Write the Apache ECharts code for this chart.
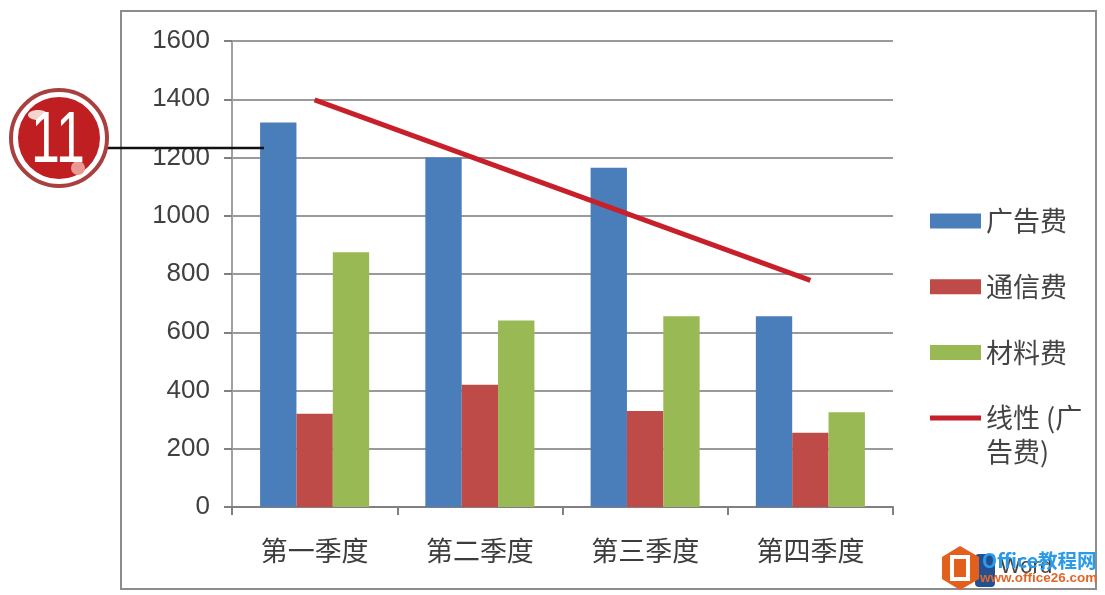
<!DOCTYPE html>
<html><head><meta charset="utf-8">
<style>html,body{margin:0;padding:0;background:#fff}#c{width:1105px;height:595px}</style>
<script src="https://cdn.jsdelivr.net/npm/echarts@6/dist/echarts.min.js"></script>
</head><body><div id="c"></div>
<script>
const categories = ['第一季度','第二季度','第三季度','第四季度'];
const adCost = [1320,1200,1165,655];
const commCost = [320,420,330,255];
const materialCost = [875,640,655,325];
const trend = [1398,null,null,778];
const yTicks = {min:0,max:1600,interval:200};
const names = ['广告费','通信费','材料费','线性 (广告费)'];
const CN = '"Noto Sans CJK SC","Liberation Sans",sans-serif';
const chart = echarts.init(document.getElementById('c'),null,{renderer:'canvas'});
const bar = (name,data,color)=>({name,type:'bar',data,barGap:'0%',barCategoryGap:'34%',itemStyle:{color},z:2});
chart.setOption({
  animation:false,
  backgroundColor:'#fff',
  grid:{left:232,right:212,top:41,bottom:88,containLabel:false},
  legend:{
    orient:'vertical',left:925,top:197,itemWidth:51,itemHeight:15,itemGap:27.7,
    data:names.map(n=>({name:n,icon:n===names[3]?'path://M0,0 L51,0 L51,5 L0,5 Z':'rect'})),
    formatter:n=>n===names[3]?'线性 (广':n,
    textStyle:{fontFamily:CN,fontSize:27,color:'#444',lineHeight:38}
  },
  xAxis:{type:'category',data:categories,
    axisLine:{lineStyle:{color:'#808080',width:2}},
    axisTick:{show:true,length:8,alignWithLabel:false,lineStyle:{color:'#808080',width:2}},
    axisLabel:{fontFamily:CN,fontSize:27,color:'#3c3c3c',margin:30}},
  yAxis:{type:'value',min:yTicks.min,max:yTicks.max,interval:yTicks.interval,
    axisLine:{show:true,lineStyle:{color:'#a0a0a0',width:2}},
    axisTick:{show:true,length:8,lineStyle:{color:'#808080',width:2}},
    axisLabel:{fontFamily:'"Liberation Sans",sans-serif',fontSize:26,color:'#404040',margin:22,formatter:v=>String(v)},
    splitLine:{show:true,lineStyle:{color:'#9a9a9a',width:2}}},
  series:[
    bar(names[0],adCost,'#4a7ebb'),
    bar(names[1],commCost,'#be4b48'),
    bar(names[2],materialCost,'#98b954'),
    {name:names[3],type:'line',data:trend,connectNulls:true,symbol:'none',z:5,
     lineStyle:{color:'#c8202a',width:5},itemStyle:{color:'#c8202a'}}
  ],
  graphic:[
    {type:'rect',shape:{x:121,y:11,width:975,height:578},style:{fill:'none',stroke:'#8c8c8c',lineWidth:2},z:0,silent:true},
    {type:'text',x:986,y:438,z:10,style:{text:'告费)',fill:'#444',font:'27px '+CN}},
    {type:'line',shape:{x1:105,y1:148,x2:264,y2:148},style:{stroke:'#111',lineWidth:2.5},z:20},
    {type:'circle',shape:{cx:59,cy:138,r:48},style:{fill:'#fff',stroke:'#a8403f',lineWidth:4},z:21},
    {type:'circle',shape:{cx:59,cy:138,r:41},style:{fill:'#c01f22'},z:22},
    {type:'ellipse',shape:{cx:38,cy:115,rx:10,ry:5},style:{fill:'#f3d5d0'},z:23},
    {type:'circle',shape:{cx:78,cy:168,r:7},style:{fill:'#e89a92'},z:23},
    {type:'text',x:31,y:106,scaleX:0.72,z:24,style:{text:'11',fill:'#fff',font:'72px "Liberation Sans",sans-serif'}},
    {type:'polygon',shape:{points:[[960,546],[979,557],[979,579],[960,590],[942,579],[942,557]]},style:{fill:'#e2601b'},z:24},
    {type:'rect',shape:{x:952,y:557,width:16,height:22},style:{fill:'none',stroke:'#fff',lineWidth:4},z:25},
    {type:'rect',shape:{x:975,y:554,width:20,height:33,r:4},style:{fill:'#24508f'},z:23},
    {type:'text',x:1000,y:556,z:23,style:{text:'Word',fill:'#444',font:'22px "Liberation Sans",sans-serif'}},
    {type:'text',x:982,y:551,z:26,style:{text:'Office教程网',fill:'#2a9aea',font:'bold 19.5px '+CN}},
    {type:'text',x:980,y:571,z:26,style:{text:'www.office26.com',fill:'#e0672a',font:'bold 13.5px "Liberation Sans",sans-serif'}}
  ]
});
</script></body></html>
